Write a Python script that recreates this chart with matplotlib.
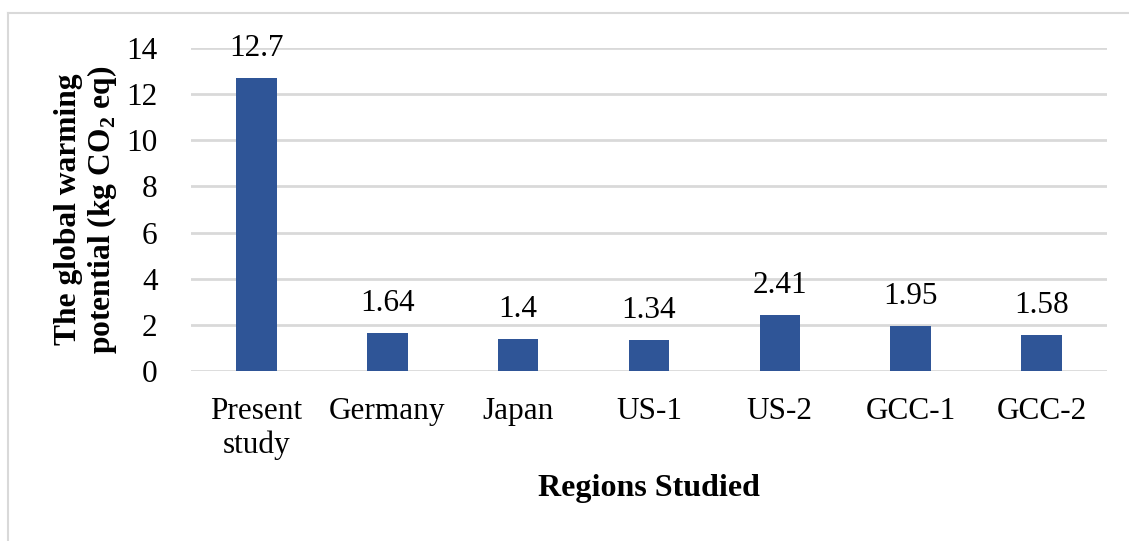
import matplotlib
matplotlib.use("Agg")
import matplotlib.pyplot as plt
from matplotlib.lines import Line2D

regions = ["Present\nstudy", "Germany", "Japan", "US-1", "US-2", "GCC-1", "GCC-2"]
gwp = [12.7, 1.64, 1.4, 1.34, 2.41, 1.95, 1.58]
labels = ["12.7", "1.64", "1.4", "1.34", "2.41", "1.95", "1.58"]

plt.rcParams['font.family'] = ['Liberation Serif', 'DejaVu Serif']
plt.rcParams['mathtext.fontset'] = 'custom'
plt.rcParams['mathtext.rm'] = 'Liberation Serif'
plt.rcParams['mathtext.bf'] = 'Liberation Serif:bold'

fig = plt.figure(figsize=(11.29, 5.41), dpi=100)
ax = fig.add_axes([0.1692, 0.3142, 0.9805 - 0.1692, 0.9113 - 0.3142])

x = range(len(regions))
ax.bar(x, gwp, width=0.31, color="#2F5597", zorder=3)
for i, v in enumerate(gwp):
    ax.text(i, v + 0.65, labels[i], ha="center", va="bottom", fontsize=22.5)

ax.set_xlim(-0.5, len(regions) - 0.5)
ax.set_ylim(0, 14)
ax.set_yticks(range(0, 15, 2))
ax.set_xticks(list(x))
ax.set_xticklabels(regions, fontsize=22.5, linespacing=1.2)
ax.tick_params(axis="both", length=0, labelsize=22.5)
ax.tick_params(axis="x", pad=19)
ax.tick_params(axis="y", pad=24)
ax.grid(axis="y", color="#d9d9d9", linewidth=2, zorder=0)
for s in ax.spines.values():
    s.set_visible(False)

ax.set_xlabel("Regions Studied", fontsize=23, fontweight="bold", labelpad=10)
ax.set_ylabel("The global warming\npotential (kg CO$_{\\mathbf{2}}$ eq)",
              fontsize=22.7, fontweight="bold", labelpad=5, linespacing=1.1)

# outer chart border (left and top visible)
fig.add_artist(Line2D([8 / 1129, 8 / 1129], [0, 1 - 13 / 541], color="#d9d9d9", lw=1.5))
fig.add_artist(Line2D([8 / 1129, 1], [1 - 13 / 541, 1 - 13 / 541], color="#d9d9d9", lw=1.5))

fig.savefig("out.png", dpi=100)
